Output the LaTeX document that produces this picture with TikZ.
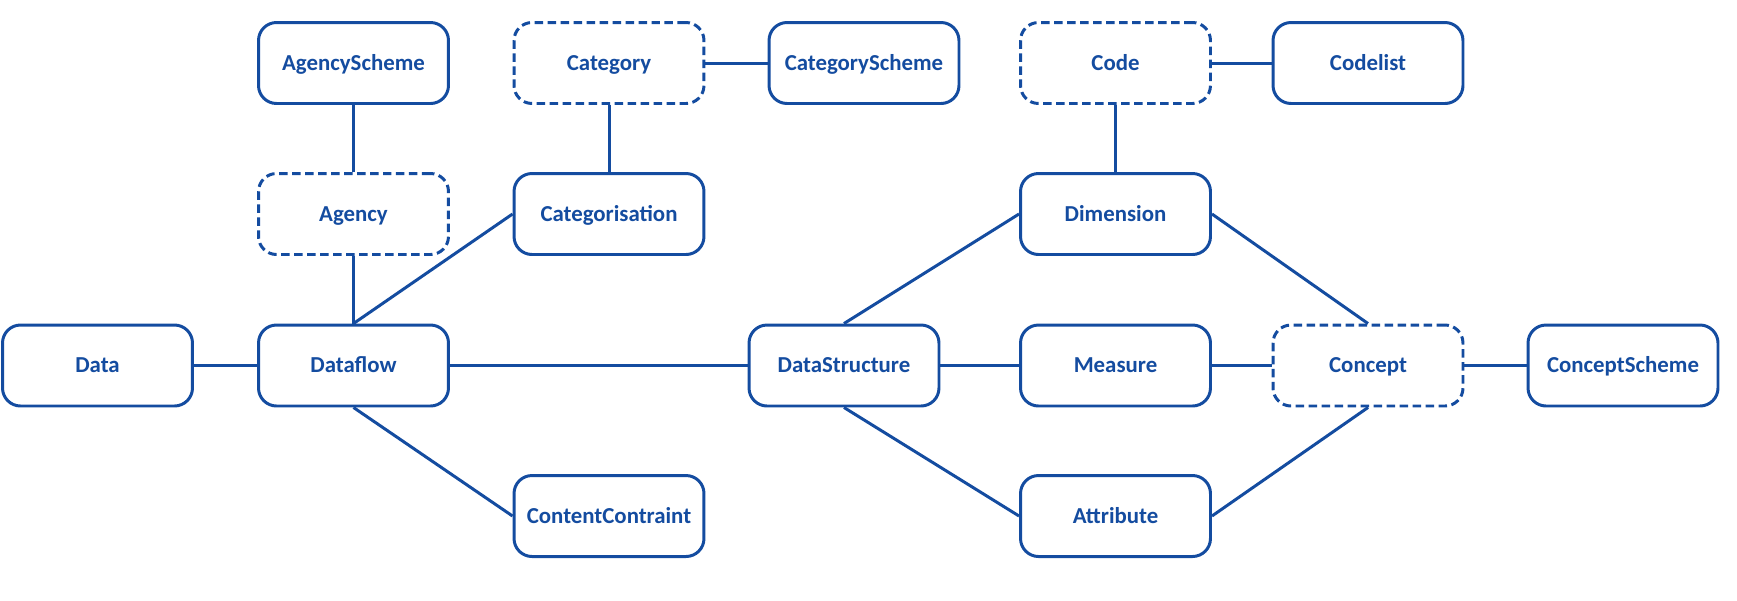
\documentclass[tikz,border=0pt]{standalone}
\usepackage{fontspec}
\setmainfont{Carlito}
\definecolor{sdmxblue}{RGB}{20,76,160}
\tikzset{
  box/.style={draw=sdmxblue,line width=1.7pt,rounded corners=0.36cm,fill=white,
    minimum width=3.8cm,minimum height=1.62cm,text=sdmxblue,
    text height=1.9ex,text depth=0.2ex,
    font=\fontsize{13pt}{15pt}\selectfont\bfseries},
  dbox/.style={box,dash pattern=on 0.17cm off 0.09cm},
  link/.style={draw=sdmxblue,line width=1.7pt}
}
\begin{document}
\begin{tikzpicture}[x=0.02cm,y=-0.02cm]
  \useasboundingbox (0,0) rectangle (1737,600);
  % top row
  \node [box] (agencyscheme) at (353.5,63) {AgencyScheme};
  \node [dbox] (category) at (609,63) {Category};
  \node [box] (categoryscheme) at (864,63) {CategoryScheme};
  \node [dbox] (code) at (1115.5,63) {Code};
  \node [box] (codelist) at (1368,63) {Codelist};
  % second row
  \node [dbox] (agency) at (353.5,214) {Agency};
  \node [box] (categorisation) at (609,214) {Categorisation};
  \node [box] (dimension) at (1115.5,214) {Dimension};
  % middle row
  \node [box] (data) at (97.5,365.5) {Data};
  \node [box] (dataflow) at (353.5,365.5) {Dataflow};
  \node [box] (datastructure) at (844,365.5) {DataStructure};
  \node [box] (measure) at (1115.5,365.5) {Measure};
  \node [dbox] (concept) at (1368,365.5) {Concept};
  \node [box] (conceptscheme) at (1623,365.5) {ConceptScheme};
  % bottom row
  \node [box] (contentcontraint) at (609,516) {ContentContraint};
  \node [box] (attribute) at (1115.5,516) {Attribute};
  % links
  \draw [link] (agencyscheme) -- (agency);
  \draw [link] (agency) -- (dataflow);
  \draw [link] (category) -- (categorisation);
  \draw [link] (category) -- (categoryscheme);
  \draw [link] (categorisation.west) -- (dataflow.north);
  \draw [link] (data) -- (dataflow);
  \draw [link] (dataflow) -- (datastructure);
  \draw [link] (dataflow.south) -- (contentcontraint.west);
  \draw [link] (datastructure.north) -- (dimension.west);
  \draw [link] (datastructure) -- (measure);
  \draw [link] (datastructure.south) -- (attribute.west);
  \draw [link] (code) -- (dimension);
  \draw [link] (code) -- (codelist);
  \draw [link] (dimension.east) -- (concept.north);
  \draw [link] (measure) -- (concept);
  \draw [link] (attribute.east) -- (concept.south);
  \draw [link] (concept) -- (conceptscheme);
\end{tikzpicture}
\end{document}
